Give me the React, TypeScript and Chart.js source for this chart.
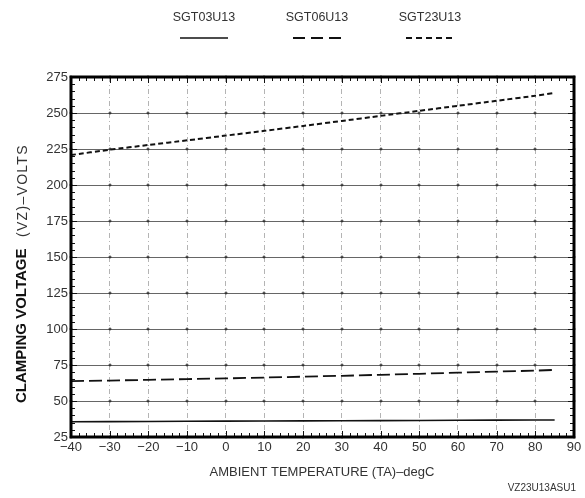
import { useEffect, useRef } from 'react';
import { Chart, registerables } from 'chart.js';

Chart.register(...registerables);

// ---- data ----
const temperatures = [-40, -30, -20, -10, 0, 10, 20, 30, 40, 50, 60, 70, 80, 85];
const sgt03u13 = [35.6, 35.7, 35.8, 35.9, 36.0, 36.1, 36.2, 36.3, 36.4, 36.5, 36.6, 36.7, 36.8, 36.8];
const sgt06u13 = [63.8, 64.2, 64.7, 65.2, 65.7, 66.3, 66.9, 67.5, 68.2, 68.9, 69.7, 70.4, 71.1, 71.6];
const sgt23u13 = [220.8, 224.5, 227.8, 231.0, 234.3, 237.6, 241.0, 244.5, 248.0, 251.5, 255.0, 258.5, 262.0, 264.0];
const seriesLabels = ['SGT03U13', 'SGT06U13', 'SGT23U13'];
const temperatureTicks = [-40, -30, -20, -10, 0, 10, 20, 30, 40, 50, 60, 70, 80, 90];
const voltageTicks = [25, 50, 75, 100, 125, 150, 175, 200, 225, 250, 275];
const xTitle = 'AMBIENT TEMPERATURE (TA)\u2013degC';
const yTitleBold = 'CLAMPING VOLTAGE';
const yTitleRest = '(VZ)\u2013VOLTS';
const figureCode = 'VZ23U13ASU1';

const FONT = '"Liberation Sans", Arial, Helvetica, sans-serif';

const toPoints = (ys: number[]) => temperatures.map((t, i) => ({ x: t, y: ys[i] }));

const decorPlugin = {
  id: 'decor',
  beforeDraw(chart: any) {
    const { ctx, width, height } = chart;
    ctx.save();
    ctx.fillStyle = '#ffffff';
    ctx.fillRect(0, 0, width, height);
    ctx.restore();
  },
  beforeDatasetsDraw(chart: any) {
    const { ctx } = chart;
    const xs = chart.scales.x;
    const ys = chart.scales.y;
    ctx.save();
    ctx.fillStyle = '#222';
    for (const tx of temperatureTicks) {
      for (const ty of voltageTicks) {
        const px = Math.round(xs.getPixelForValue(tx));
        const py = Math.round(ys.getPixelForValue(ty));
        ctx.fillRect(px - 1.5, py - 0.5, 3, 1);
        ctx.fillRect(px - 0.5, py - 1.5, 1, 3);
      }
    }
    ctx.restore();
  },
  afterDraw(chart: any) {
    const { ctx, chartArea } = chart;
    const { left, right, top, bottom } = chartArea;
    const xs = chart.scales.x;
    const ys = chart.scales.y;
    ctx.save();

    // minor ticks, inward on all four sides
    ctx.strokeStyle = '#111';
    ctx.lineWidth = 1;
    ctx.beginPath();
    for (let v = ys.min; v <= ys.max; v += 5) {
      const py = Math.round(ys.getPixelForValue(v)) + 0.5;
      const len = v % 25 === 0 ? 6 : 4;
      ctx.moveTo(left, py);
      ctx.lineTo(left + len, py);
      ctx.moveTo(right, py);
      ctx.lineTo(right - len, py);
    }
    for (let v = xs.min; v <= xs.max; v += 2) {
      const px = Math.round(xs.getPixelForValue(v)) + 0.5;
      const len = v % 10 === 0 ? 6 : 4;
      ctx.moveTo(px, bottom);
      ctx.lineTo(px, bottom - len);
      ctx.moveTo(px, top);
      ctx.lineTo(px, top + len);
    }
    ctx.stroke();

    // heavy frame
    ctx.lineWidth = 3;
    ctx.strokeStyle = '#000';
    ctx.strokeRect(left, top, right - left, bottom - top);

    // legend: label above, line sample below
    chart.data.datasets.forEach((ds: any, i: number) => {
      const cx = 204 + i * 113;
      ctx.fillStyle = '#333';
      ctx.font = `12.5px ${FONT}`;
      ctx.textAlign = 'center';
      ctx.textBaseline = 'middle';
      ctx.fillText(ds.label, cx, 18);
      ctx.strokeStyle = '#111';
      ctx.lineWidth = ds.borderWidth;
      ctx.setLineDash(ds.legendDash || ds.borderDash || []);
      ctx.beginPath();
      ctx.moveTo(cx - 24, 38);
      ctx.lineTo(cx + 24, 38);
      ctx.stroke();
      ctx.setLineDash([]);
    });

    // x title
    ctx.fillStyle = '#333';
    ctx.font = `13px ${FONT}`;
    ctx.textAlign = 'center';
    ctx.textBaseline = 'middle';
    ctx.fillText(xTitle, 322, 472);

    // y title (rotated), bold part then regular part
    ctx.save();
    ctx.translate(22, 403);
    ctx.rotate(-Math.PI / 2);
    ctx.textAlign = 'left';
    ctx.textBaseline = 'middle';
    ctx.fillStyle = '#111';
    ctx.font = `bold 15px ${FONT}`;
    ctx.fillText(yTitleBold, 0, 0);
    ctx.restore();

    ctx.save();
    ctx.translate(23, 237);
    ctx.rotate(-Math.PI / 2);
    ctx.textAlign = 'left';
    ctx.textBaseline = 'middle';
    ctx.fillStyle = '#333';
    ctx.font = `14px ${FONT}`;
    (ctx as any).letterSpacing = '1.3px';
    ctx.fillText(yTitleRest, 0, 0);
    ctx.restore();

    // figure code
    ctx.fillStyle = '#333';
    ctx.font = `10px ${FONT}`;
    ctx.textAlign = 'right';
    ctx.textBaseline = 'middle';
    ctx.fillText(figureCode, 576, 488);

    ctx.restore();
  },
};

export default function App() {
  const canvasRef = useRef<HTMLCanvasElement | null>(null);

  useEffect(() => {
    if (!canvasRef.current) return;
    const chart = new Chart(canvasRef.current, {
      type: 'line',
      data: {
        datasets: [
          {
            label: seriesLabels[0],
            data: toPoints(sgt03u13),
            borderColor: '#111',
            borderWidth: 1.6,
            borderDash: [],
            pointRadius: 0,
            tension: 0,
          },
          {
            label: seriesLabels[1],
            data: toPoints(sgt06u13),
            borderColor: '#111',
            borderWidth: 1.8,
            borderDash: [13, 5],
            legendDash: [12, 6],
            pointRadius: 0,
            tension: 0,
          } as any,
          {
            label: seriesLabels[2],
            data: toPoints(sgt23u13),
            borderColor: '#111',
            borderWidth: 2,
            borderDash: [5, 3],
            legendDash: [6, 4],
            pointRadius: 0,
            tension: 0.2,
          } as any,
        ],
      },
      options: {
        responsive: false,
        animation: false,
        layout: { padding: { left: 0, right: 11, top: 77, bottom: 0 } },
        plugins: {
          legend: { display: false },
          tooltip: { enabled: false },
          title: { display: false },
        },
        scales: {
          x: {
            type: 'linear',
            min: -40,
            max: 90,
            afterBuildTicks: (s: any) => {
              s.ticks = temperatureTicks.map((v) => ({ value: v }));
            },
            afterFit: (s: any) => {
              s.height = 61;
            },
            ticks: {
              font: { family: FONT, size: 13 },
              color: '#333',
              padding: 3,
              maxRotation: 0,
              autoSkip: false,
              callback: (v: any) => (Number(v) < 0 ? '\u2212' + Math.abs(Number(v)) : String(v)),
            },
            grid: { color: '#b4b4b4', lineWidth: 1, drawTicks: false },
            border: { display: false, dash: [5, 3, 1, 3] },
          },
          y: {
            type: 'linear',
            min: 25,
            max: 275,
            afterBuildTicks: (s: any) => {
              s.ticks = voltageTicks.map((v) => ({ value: v }));
            },
            afterFit: (s: any) => {
              s.width = 71;
            },
            ticks: {
              font: { family: FONT, size: 13 },
              color: '#333',
              padding: 3,
              autoSkip: false,
            },
            grid: { color: '#666', lineWidth: 1, drawTicks: false },
            border: { display: false },
          },
        },
      } as any,
      plugins: [decorPlugin],
    });
    return () => chart.destroy();
  }, []);

  return (
    <div style={{ position: 'fixed', left: 0, top: 0, width: 585, height: 498, background: '#fff' }}>
      <canvas ref={canvasRef} width={585} height={498} style={{ display: 'block' }} />
    </div>
  );
}
